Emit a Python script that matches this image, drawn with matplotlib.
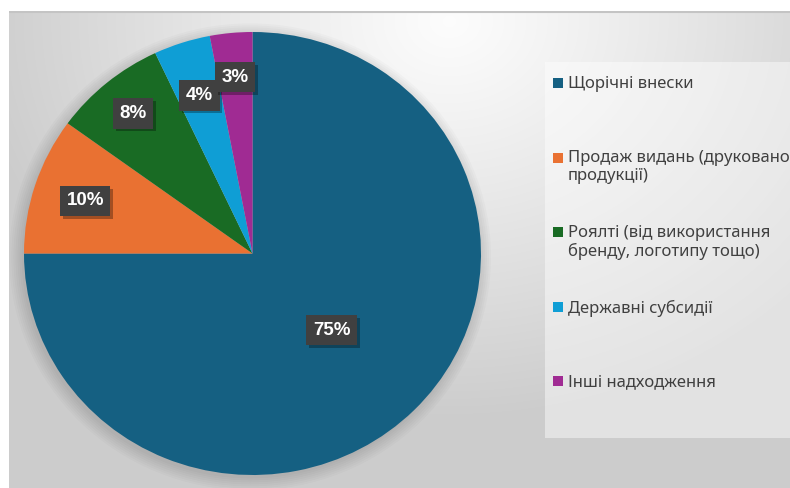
import numpy as np
from matplotlib import pyplot as plt
from matplotlib.patches import Rectangle, Ellipse
from matplotlib import patheffects as pe

# дані діаграми
categories = [
    'Щорічні внески',
    'Продаж видань (друкованої\nпродукції)',
    'Роялті (від використання\nбренду, логотипу тощо)',
    'Державні субсидії',
    'Інші надходження',
]
shares = [75, 10, 8, 4, 3]
labels = ['75%', '10%', '8%', '4%', '3%']
colors = ['#156082', '#E97132', '#196B24', '#0F9ED5', '#A02B93']
label_radius = [0.49, 0.77, 0.82, 0.75, 0.80]

W, H = 790, 488
fig = plt.figure(figsize=(W / 100, H / 100), dpi=100)
fig.patch.set_facecolor('white')

## фон з радіальним градієнтом
bg = fig.add_axes([9 / W, 0, 1 - 9 / W, (H - 11) / H])
bg.set_axis_off()
yy, xx = np.mgrid[0:H - 11, 0:W - 9]
d = np.sqrt(((xx - 440) / 1.0) ** 2 + ((yy - 10) * 1.2) ** 2)
g = np.clip(d / 480, 0, 1)
shade = 0.99 - 0.19 * g ** 1.1
img = np.dstack([shade, shade, shade])
bg.imshow(img, aspect='auto', extent=[0, 1, 0, 1], origin='upper')
bg.set_xlim(0, 1)
bg.set_ylim(0, 1)
bg.plot([0, 1], [0.998, 0.998], color='#c4c4c4', lw=1.5)

## кругова діаграма
cx, cy, rx, ry = 252.5, 253.5, 228.5, 221.5
ax = fig.add_axes([(cx - rx) / W, (H - cy - ry) / H, 2 * rx / W, 2 * ry / H])
ax.set_axis_off()

# м'яка тінь
for k in range(7):
    s = 1.0 + 0.009 * k
    ax.add_patch(Ellipse((-0.01, -0.015), 2 * s, 2 * s,
                         color='k', alpha=0.02, lw=0, zorder=0, clip_on=False))

wedges, _ = ax.pie(shares, colors=colors, startangle=90, counterclock=False,
                   radius=1.0, wedgeprops=dict(linewidth=0))
for w in wedges:
    w.set_zorder(2)

for w, lab, rr in zip(wedges, labels, label_radius):
    ang = np.deg2rad((w.theta1 + w.theta2) / 2)
    t = ax.text(rr * np.cos(ang), rr * np.sin(ang), lab, ha='center', va='center',
                color='white', fontsize=13.5, fontweight='bold',
                family='Liberation Sans', zorder=5,
                bbox=dict(boxstyle='square,pad=0.35', facecolor='#404040',
                          edgecolor='none'))
    t.get_bbox_patch().set_path_effects(
        [pe.withSimplePatchShadow(offset=(2, -2), shadow_rgbFace='k', alpha=0.3),
         pe.Normal()])

ax.set_xlim(-1, 1)
ax.set_ylim(-1, 1)
ax.set_aspect('auto')

## легенда
fig.patches.append(Rectangle((545 / W, (H - 438) / H), (W - 545) / W, (438 - 62) / H,
                             transform=fig.transFigure, facecolor='white',
                             alpha=0.45, edgecolor='none', zorder=1))
for i, (cat, col) in enumerate(zip(categories, colors)):
    ytop = 83 + 74.5 * i
    fig.patches.append(Rectangle((553 / W, (H - ytop - 5) / H), 10 / W, 10 / H,
                                 transform=fig.transFigure, facecolor=col,
                                 edgecolor='none', zorder=3))
    fig.text(568 / W, (H - ytop + 7) / H, cat, ha='left', va='top',
             fontsize=12, color='#404040', family='Noto Sans',
             linespacing=1.15, zorder=3)

fig.savefig('out.png', dpi=100)
